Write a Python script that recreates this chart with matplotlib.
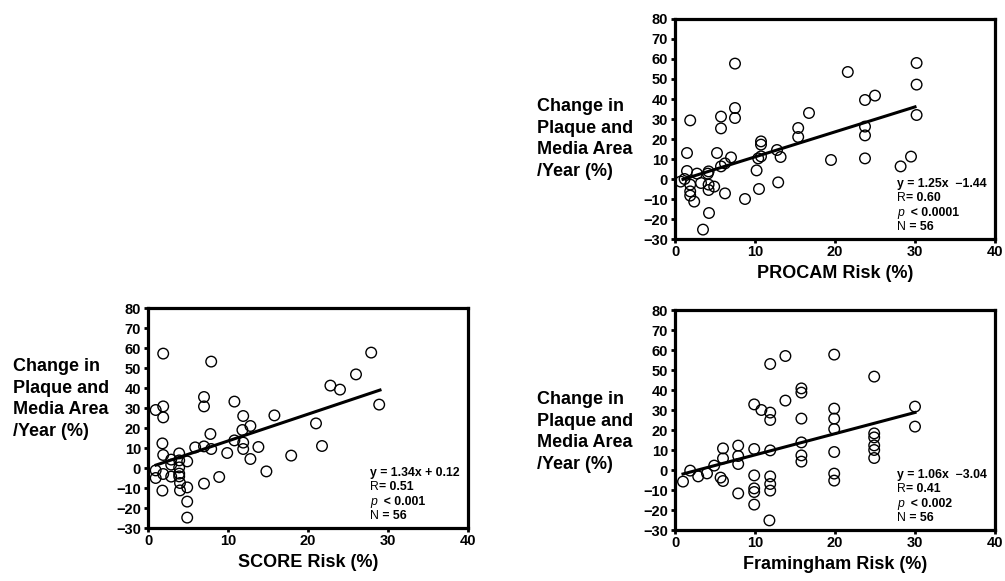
import matplotlib
matplotlib.use('Agg')
import matplotlib.pyplot as plt
import numpy as np

plt.rcParams['font.family'] = ['Liberation Sans', 'DejaVu Sans']
plt.rcParams['font.weight'] = 'bold'

# ---------------- data ----------------
procam_x = [0.7, 1.2, 1.5, 1.5, 1.9, 1.9, 1.9, 1.9, 2.4, 2.75, 3.25, 3.5, 4.1, 4.2, 4.2,
            4.2, 4.25, 4.9, 5.25, 5.75, 5.75, 5.75, 6.25, 6.25, 7.0, 7.5, 7.5, 7.5, 8.75,
            10.2, 10.4, 10.5, 10.75, 10.75, 10.75, 12.75, 12.9, 13.2, 15.4, 15.4, 16.75,
            19.5, 21.6, 23.75, 23.75, 23.75, 23.75, 25.0, 28.2, 29.5, 30.2, 30.2, 30.2]
procam_y = [-1.3, 0, 13, 4, 29.3, -2.8, -6.2, -8.3, -11.3, 2.7, -2, -25.3, 2.7, 3.8, -2.8,
            -5.5, -17, -3.8, 13, 6.3, 25.3, 31.2, 7.8, -7.2, 10.8, 57.7, 35.5, 30.5, -10,
            4.3, 10.3, -5, 18.8, 17.2, 11.3, 14.5, -1.7, 11, 25.5, 21, 33,
            9.5, 53.5, 39.5, 26.2, 21.8, 10.3, 41.7, 6.3, 11.2, 58, 47.2, 32]

score_x = [0.96, 0.96, 0.96, 1.9, 1.9, 1.9, 1.8, 1.9, 1.9, 1.8, 2.9, 2.9, 2.9, 3.9, 3.9,
           3.9, 3.9, 3.9, 4.0, 4.0, 4.9, 4.9, 4.9, 4.9, 5.9, 7.0, 7.0, 7.0, 7.0, 7.8,
           7.9, 7.9, 8.9, 9.9, 10.8, 10.8, 11.9, 11.8, 11.9, 11.9, 12.8, 12.8, 13.8,
           14.8, 15.8, 17.9, 21.0, 21.75, 22.8, 24.0, 26.0, 27.9, 28.9]
score_y = [-1.2, -5, 29, 57.2, 30.8, 25.3, 12.3, 6.5, -3, -11.3, 4.2, 1.7, -4.3, 7.3, 3.8,
           0.3, -2.8, -4.2, -7.5, -11.2, 3.3, -9.7, -16.8, -24.8, 10.3, 10.8, 30.8, 35.5,
           -7.8, 17, 9.5, 53.2, -4.5, 7.5, 33.2, 13.8, 26, 19, 12.7, 9.5, 21, 4.5, 10.5,
           -1.7, 26.3, 6.2, 22.3, 11, 41.2, 39.2, 46.8, 57.7, 31.7]

fram_x = [1, 1.9, 2.9, 4, 4.9, 6, 6, 5.7, 6, 7.9, 7.9, 7.9, 7.9, 9.9, 9.9, 9.9, 9.9, 9.9,
          9.9, 10.8, 11.9, 11.9, 11.9, 11.9, 11.9, 11.9, 11.9, 11.8, 13.8, 13.8, 15.8,
          15.8, 15.8, 15.8, 15.8, 15.8, 19.9, 19.9, 19.9, 19.9, 19.9, 19.9, 19.9, 24.9,
          24.9, 24.9, 24.9, 24.9, 24.9, 30, 30]
fram_y = [-5.8, -0.3, -3.2, -1.7, 2.2, 10.8, 5.8, -3.8, -5.5, 12.2, 7, 3, -11.7, 32.8,
          10.5, -2.7, -9.2, -11, -17.3, 30, 53, 28.7, 25, 9.8, -3.2, -7, -10.3, -25.2, 57,
          34.7, 40.8, 38.7, 25.7, 13.8, 7.3, 4.2, 57.7, 30.7, 25.7, 20.5, 9, -1.8, -5.3,
          46.7, 18.3, 16.3, 12.3, 10, 6, 31.7, 21.7]

x_ticks = [0, 10, 20, 30, 40]
y_ticks = [-30, -20, -10, 0, 10, 20, 30, 40, 50, 60, 70, 80]

procam_fit = dict(slope=1.25, intercept=-1.44, x_range=[1, 30],
                  eq='y = 1.25x  \u22121.44', r='= 0.60', p='  < 0.0001', n=' = 56')
score_fit = dict(slope=1.34, intercept=0.12, x_range=[1, 29],
                 eq='y = 1.34x + 0.12', r='= 0.51', p='  < 0.001', n=' = 56')
fram_fit = dict(slope=1.06, intercept=-3.04, x_range=[1, 30],
                eq='y = 1.06x  \u22123.04', r='= 0.41', p='  < 0.002', n=' = 56')

ylabel_text = 'Change in\nPlaque and\nMedia Area\n/Year (%)'

# ---------------- figure ----------------
W, H = 1005, 581
fig = plt.figure(figsize=(W / 100, H / 100), dpi=100)


def px_axes(l, t, r, b):
    return fig.add_axes([l / W, 1 - b / H, (r - l) / W, (b - t) / H])


def draw_panel(ax, xs, ys, fit, xlabel):
    ax.set_xlim(0, 40)
    ax.set_ylim(-30, 80)
    ax.set_xticks(x_ticks)
    ax.set_yticks(y_ticks)
    ax.scatter(xs, ys, s=58, facecolors='none', edgecolors='black',
               linewidths=1.0, zorder=3, clip_on=False)
    lx = np.array(fit['x_range'], dtype=float)
    ax.plot(lx, fit['slope'] * lx + fit['intercept'], color='black', lw=2.2, zorder=4)
    for sp in ax.spines.values():
        sp.set_linewidth(2.3)
    ax.tick_params(direction='out', length=3, width=2, labelsize=10.5)
    ax.tick_params(axis='x', pad=1.5)
    ax.tick_params(axis='y', pad=2)
    ax.set_xlabel(xlabel, fontsize=13, fontweight='bold', labelpad=4)

    fs = 8.8
    x0 = 27.8
    rows = [
        [(fit['eq'], 'bold', 'normal')],
        [('R', 'normal', 'normal'), (fit['r'], 'bold', 'normal')],
        [('p', 'normal', 'italic'), (fit['p'], 'bold', 'normal')],
        [('N', 'normal', 'normal'), (fit['n'], 'bold', 'normal')],
    ]
    centers = [-2.2, -9.3, -16.5, -23.5]
    for row, yc in zip(rows, centers):
        s, w, st = row[0]
        t = ax.text(x0, yc - 3.4, s, fontsize=fs, fontweight=w, fontstyle=st,
                    ha='left', va='bottom', zorder=5)
        for s, w, st in row[1:]:
            t = ax.annotate(s, xy=(1, 0), xycoords=t, fontsize=fs, fontweight=w,
                            fontstyle=st, ha='left', va='bottom', zorder=5)


ax1 = px_axes(675, 19, 995, 239)
draw_panel(ax1, procam_x, procam_y, procam_fit, 'PROCAM Risk (%)')
ax2 = px_axes(148, 308, 468, 528)
draw_panel(ax2, score_x, score_y, score_fit, 'SCORE Risk (%)')
ax3 = px_axes(675, 310, 995, 530)
draw_panel(ax3, fram_x, fram_y, fram_fit, 'Framingham Risk (%)')

for (lx, cy) in [(537, 139), (13, 399), (537, 432)]:
    fig.text(lx / W, 1 - cy / H, ylabel_text, fontsize=13, fontweight='bold',
             ha='left', va='center', multialignment='left', linespacing=1.35)

fig.savefig('out.png', dpi=100)
